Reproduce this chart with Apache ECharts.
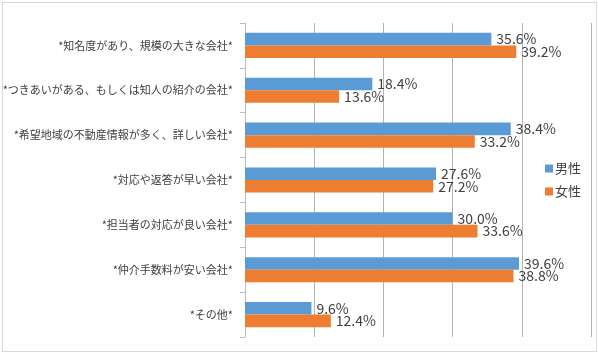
<!DOCTYPE html>
<html>
<head>
<meta charset="utf-8">
<script src="https://cdn.jsdelivr.net/npm/echarts@6/dist/echarts.min.js"></script>
<style>
    html, body { margin: 0; padding: 0; background: #fff; }
    #chart { position: absolute; left: 0; top: 0; width: 598px; height: 354px; }
    #frame { position: absolute; left: 2px; top: 2px; width: 593px; height: 348px; border: 1px solid #d9d9d9; pointer-events: none; }
</style>
</head>
<body>
<div id="chart"></div>
<div id="frame"></div>
<script>
var categories = [
    '*知名度があり、規模の大きな会社*',
    '*つきあいがある、もしくは知人の紹介の会社*',
    '*希望地域の不動産情報が多く、詳しい会社*',
    '*対応や返答が早い会社*',
    '*担当者の対応が良い会社*',
    '*仲介手数料が安い会社*',
    '*その他*'
];
var male = [35.6, 18.4, 38.4, 27.6, 30.0, 39.6, 9.6];
var female = [39.2, 13.6, 33.2, 27.2, 33.6, 38.8, 12.4];
var seriesNames = ['男性', '女性'];

var jpFont = '"Noto Sans CJK JP", sans-serif';
var myChart = echarts.init(document.getElementById('chart'));

var labelStyle = {
    show: true,
    position: 'right',
    distance: 5,
    color: '#404040',
    fontSize: 14,
    fontFamily: jpFont,
    formatter: function (p) { return p.value.toFixed(1) + '%'; }
};

var option = {
    animation: false,
    color: ['#5B9BD5', '#ED7D31'],
    textStyle: { fontFamily: jpFont },
    grid: { left: 245, right: 7, top: 23, bottom: 17, outerBoundsMode: 'none' },
    legend: {
        orient: 'vertical',
        right: 12,
        top: 157,
        itemWidth: 8,
        itemHeight: 8,
        itemGap: 10,
        icon: 'rect',
        textStyle: { color: '#404040', fontSize: 13, fontFamily: jpFont, padding: [0, 0, 0, -3] },
        data: seriesNames
    },
    xAxis: {
        type: 'value',
        min: 0,
        max: 50,
        interval: 10,
        axisLabel: { show: false },
        axisLine: { show: false },
        axisTick: { show: false },
        splitLine: { lineStyle: { color: '#b4b4b4', width: 1 } }
    },
    yAxis: {
        type: 'category',
        inverse: true,
        data: categories,
        axisLine: { show: true, lineStyle: { color: '#bfbfbf' } },
        axisTick: { show: true, length: 5, lineStyle: { color: '#bfbfbf' } },
        axisLabel: { color: '#404040', fontSize: 11, fontFamily: jpFont, margin: 12 }
    },
    series: [
        {
            name: seriesNames[0],
            type: 'bar',
            data: male,
            barGap: '0%',
            barCategoryGap: '44%',
            label: labelStyle
        },
        {
            name: seriesNames[1],
            type: 'bar',
            data: female,
            label: labelStyle
        }
    ]
};

myChart.setOption(option);
</script>
</body>
</html>
